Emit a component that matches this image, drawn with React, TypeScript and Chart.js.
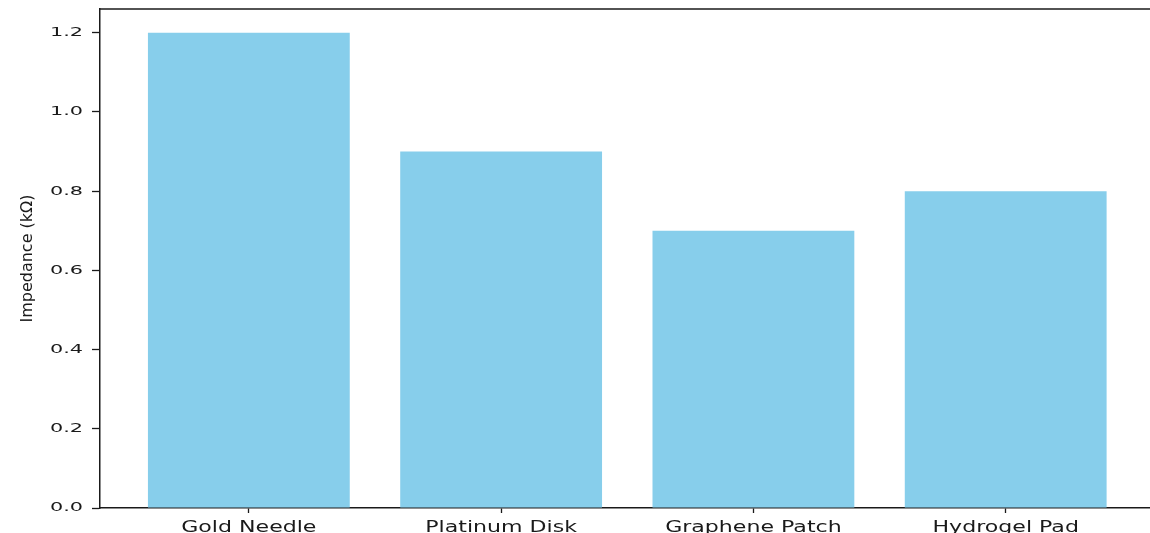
import React, { useEffect, useRef } from "react";
import { Chart, registerables, LinearScale } from "chart.js";

Chart.register(...registerables);

const categories = ["Gold Needle", "Platinum Disk", "Graphene Patch", "Hydrogel Pad"];
const impedance = [1.2, 0.9, 0.7, 0.8];
const yTicks = [0, 0.2, 0.4, 0.6, 0.8, 1.0, 1.2];
const yLabel = "Impedance (kΩ)";
const Y_MAX = 1.26;
const X_MIN = -0.59;
const X_MAX = 3.572;

const X_STRETCH = 1.38;
const Y_STRETCH = 1.6;
const INK = "#1a1a1a";

class WideLinear extends (LinearScale as any) {
  static id = "wideLinear";
  drawLabels(chartArea: any) {
    const self = this as any;
    if (!self.options.ticks.display) return;
    const ctx = self.ctx as CanvasRenderingContext2D;
    const stretch = self.axis === "x" ? X_STRETCH : Y_STRETCH;
    const items = self.getLabelItems(chartArea);
    for (const item of items) {
      const o = item.options;
      ctx.save();
      ctx.font = item.font.string;
      ctx.translate(o.translation[0], o.translation[1]);
      if (o.rotation) ctx.rotate(o.rotation);
      ctx.scale(stretch, 1);
      ctx.fillStyle = o.color;
      ctx.textAlign = o.textAlign;
      ctx.textBaseline = o.textBaseline;
      ctx.fillText(String(item.label), 0, item.textOffset);
      ctx.restore();
    }
  }
}
Chart.register(WideLinear as any);

const topSpine = {
  id: "topSpine",
  afterDraw(chart: any) {
    const { ctx, chartArea } = chart;
    ctx.save();
    ctx.strokeStyle = INK;
    ctx.lineWidth = 1.5;
    ctx.beginPath();
    ctx.moveTo(chartArea.left, chartArea.top);
    ctx.lineTo(chart.width, chartArea.top);
    ctx.stroke();
    ctx.restore();
  },
};

export default function App() {
  const ref = useRef<HTMLCanvasElement>(null);
  useEffect(() => {
    if (!ref.current) return;
    const chart = new Chart(ref.current, {
      type: "bar",
      data: {
        datasets: [
          {
            label: yLabel,
            data: impedance.map((v, i) => ({ x: i, y: v })),
            backgroundColor: "#87CEEB",
            borderWidth: 0,
            barPercentage: 0.8,
            categoryPercentage: 1.0,
          },
        ],
      },
      options: {
        animation: false,
        responsive: false,
        layout: { padding: { left: 0, top: 9, right: 0, bottom: 0 } },
        plugins: { legend: { display: false }, tooltip: { enabled: false } },
        scales: {
          x: {
            type: "wideLinear" as any,
            offset: false,
            min: X_MIN,
            max: X_MAX,
            afterBuildTicks: (scale: any) => {
              scale.ticks = categories.map((_, i) => ({ value: i }));
            },
            afterFit: (scale: any) => {
              scale.height = 25;
              scale.paddingLeft = 0;
              scale.paddingRight = 0;
            },
            grid: {
              offset: false,
              drawOnChartArea: false,
              drawTicks: true,
              tickLength: 5,
              tickColor: INK,
              tickWidth: 1.3,
            },
            border: { display: true, color: INK, width: 1.5 },
            ticks: {
              autoSkip: false,
              maxRotation: 0,
              padding: 5,
              color: INK,
              font: { family: "DejaVu Sans", size: 16 },
              callback: (v: any) => categories[Math.round(Number(v))] ?? "",
            },
          },
          y: {
            type: "wideLinear" as any,
            min: 0,
            max: Y_MAX,
            afterBuildTicks: (scale: any) => {
              scale.ticks = yTicks.map((v) => ({ value: v }));
            },
            afterFit: (scale: any) => {
              scale.width = 100;
              scale.paddingTop = 0;
              scale.paddingBottom = 0;
            },
            grid: {
              drawOnChartArea: false,
              drawTicks: true,
              tickLength: 8,
              tickColor: INK,
              tickWidth: 1.3,
            },
            border: { display: true, color: INK, width: 1.5 },
            ticks: {
              padding: 9,
              color: INK,
              font: { family: "DejaVu Sans", size: 13 },
              callback: (v: any) => Number(v).toFixed(1),
            },
            title: {
              display: true,
              text: yLabel,
              color: INK,
              font: { family: "DejaVu Sans", size: 16 },
              padding: { top: 18, bottom: 0 },
            },
          },
        },
      },
      plugins: [topSpine],
    });
    return () => chart.destroy();
  }, []);

  return (
    <div
      style={{
        position: "fixed",
        left: 0,
        top: 0,
        width: 1150,
        height: 533,
        overflow: "hidden",
        background: "#fff",
      }}
    >
      <canvas ref={ref} width={1150} height={533} style={{ display: "block" }} />
    </div>
  );
}
